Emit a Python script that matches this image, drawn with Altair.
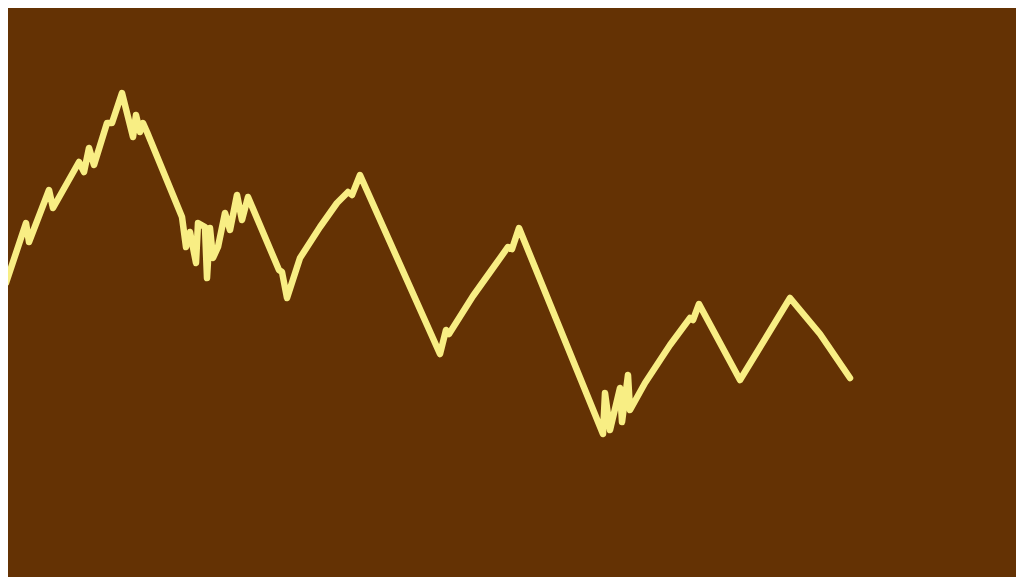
import altair as alt
import pandas as pd

# Traced line points (horizontal position, vertical position measured from top)
xs = [0, 6, 26, 29, 49, 53, 79, 84, 89, 94, 107, 112, 122, 133, 136, 140, 143, 147,
      182, 186, 190, 196, 198, 205, 207, 210, 213, 218, 225, 230, 237, 242, 248,
      279, 282, 287, 300, 320, 337, 348, 352, 360,
      440, 446, 449, 473, 493, 508, 512, 519,
      603, 605, 610, 620, 622, 628, 630, 645, 670, 690, 693, 699,
      740, 790, 820, 850]
ys = [247, 283, 223, 242, 190, 208, 162, 172, 148, 165, 123, 123, 93, 137, 115, 132, 123, 132,
      217, 247, 232, 263, 223, 227, 278, 228, 258, 247, 213, 230, 195, 220, 197,
      270, 272, 298, 258, 227, 203, 192, 195, 175,
      354, 330, 334, 296, 268, 247, 249, 228,
      434, 393, 430, 388, 422, 375, 410, 383, 345, 318, 320, 304,
      380, 298, 334, 378]

df = pd.DataFrame({"x": xs, "y": ys, "order": list(range(len(xs)))})

BG = "#643204"
LINE = "#F8EE84"

chart = alt.Chart(df).mark_line(
    color=LINE, strokeWidth=6.5, strokeCap="round", strokeJoin="round", clip=True
).encode(
    x=alt.X("x:Q", scale=alt.Scale(domain=[8, 1016], nice=False, zero=False), axis=None),
    y=alt.Y("y:Q", scale=alt.Scale(domain=[8, 577], nice=False, zero=False, reverse=True), axis=None),
    order="order:Q",
).properties(
    width=1008, height=569, background=BG, padding=0,
    autosize=alt.AutoSizeParams(type="none"),
).configure_view(stroke=None, fill=BG)

chart.save("out.html", embed_options={"renderer": "svg", "actions": False})
